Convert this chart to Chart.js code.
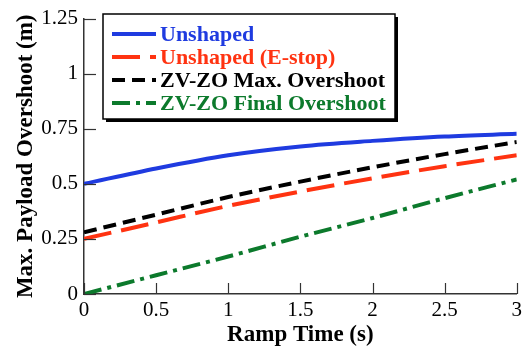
<!DOCTYPE html>
<html>
<head>
<meta charset="utf-8">
<script src="https://cdn.jsdelivr.net/npm/chart.js@4"></script>
<style>
  html, body { margin: 0; padding: 0; background: #fff; }
  #wrap { width: 526px; height: 354px; position: relative; }
</style>
</head>
<body>
<div id="wrap"><canvas id="myChart"></canvas></div>
<script>
const rampTimes = [0, 0.5, 1, 1.5, 2, 2.5, 3];
const unshaped = [0.5, 0.57, 0.63, 0.67, 0.695, 0.715, 0.727];
const unshapedEstop = [0.25, 0.325, 0.4, 0.465, 0.525, 0.58, 0.63];
const zvzoMax = [0.28, 0.36, 0.44, 0.51, 0.575, 0.635, 0.69];
const zvzoFinal = [0, 0.085, 0.17, 0.26, 0.345, 0.435, 0.52];
const seriesNames = ["Unshaped", "Unshaped (E-stop)", "ZV-ZO Max. Overshoot", "ZV-ZO Final Overshoot"];
const xTicks = [0, 0.5, 1, 1.5, 2, 2.5, 3];
const yTicks = [0, 0.25, 0.5, 0.75, 1, 1.25];

const serif = "'Liberation Serif', 'DejaVu Serif', serif";

const toPoints = (vals) => rampTimes.map((t, i) => ({ x: t, y: vals[i] }));

const makeSet = (label, vals, color, dash) => ({
  label: label,
  data: toPoints(vals),
  borderColor: color,
  backgroundColor: color,
  borderWidth: 4,
  borderDash: dash,
  pointRadius: 0,
  cubicInterpolationMode: "monotone",
  fill: false,
});

// inward tick marks, like the original plot
const innerTicks = {
  id: "innerTicks",
  afterDraw(chart) {
    const ctx = chart.ctx;
    const xs = chart.scales.x;
    const ys = chart.scales.y;
    const area = chart.chartArea;
    ctx.save();
    ctx.strokeStyle = "#333";
    ctx.lineWidth = 1.2;
    xTicks.forEach((v) => {
      const px = Math.round(xs.getPixelForValue(v)) + 0.5;
      ctx.beginPath();
      ctx.moveTo(px, area.bottom);
      ctx.lineTo(px, area.bottom - 11);
      ctx.stroke();
    });
    yTicks.forEach((v) => {
      const py = Math.round(ys.getPixelForValue(v)) + 0.5;
      ctx.beginPath();
      ctx.moveTo(area.left, py);
      ctx.lineTo(area.left + 12, py);
      ctx.stroke();
    });
    ctx.restore();
  },
};

// boxed legend with a drop shadow, top left inside the plot
const boxLegend = {
  id: "boxLegend",
  afterDraw(chart) {
    const ctx = chart.ctx;
    const left = 103, top = 14, w = 292, h = 105;
    ctx.save();
    ctx.fillStyle = "#000";
    ctx.fillRect(left + 3, top + 3, w, h);
    ctx.fillStyle = "#fff";
    ctx.fillRect(left, top, w, h);
    ctx.strokeStyle = "#000";
    ctx.lineWidth = 1.5;
    ctx.strokeRect(left, top, w, h);
    ctx.font = "bold 22px " + serif;
    ctx.textBaseline = "middle";
    chart.data.datasets.forEach((ds, i) => {
      const y = 34 + i * 23;
      ctx.strokeStyle = ds.borderColor;
      ctx.lineWidth = 4;
      ctx.setLineDash(ds.borderDash || []);
      ctx.beginPath();
      ctx.moveTo(112, y);
      ctx.lineTo(156, y);
      ctx.stroke();
      ctx.setLineDash([]);
      ctx.fillStyle = ds.borderColor;
      ctx.fillText(ds.label, 160, y + 1);
    });
    ctx.restore();
  },
};

new Chart(document.getElementById("myChart"), {
  type: "line",
  data: {
    datasets: [
      makeSet(seriesNames[0], unshaped, "#1f3be0", []),
      makeSet(seriesNames[1], unshapedEstop, "#ff3311", [28, 10]),
      makeSet(seriesNames[2], zvzoMax, "#000000", [13, 7]),
      makeSet(seriesNames[3], zvzoFinal, "#0c7a2c", [18, 6, 4, 6]),
    ],
  },
  options: {
    responsive: true,
    maintainAspectRatio: false,
    animation: false,
    layout: { padding: { top: 12, right: 7, left: 0, bottom: 0 } },
    plugins: {
      legend: { display: false },
      tooltip: { enabled: false },
    },
    scales: {
      x: {
        type: "linear",
        min: 0,
        max: 3,
        afterBuildTicks: (scale) => { scale.ticks = xTicks.map((v) => ({ value: v })); },
        afterFit: (scale) => { scale.height = 60; },
        grid: { display: false, drawTicks: false },
        border: { display: true, color: "#333", width: 1.5 },
        ticks: {
          color: "#000",
          font: { family: serif, size: 21 },
          padding: 4,
          maxRotation: 0,
          callback: (v) => String(v),
        },
        title: {
          display: true,
          text: "Ramp Time (s)",
          color: "#000",
          font: { family: serif, size: 23, weight: "bold" },
          padding: { top: 0, bottom: 5 },
        },
      },
      y: {
        type: "linear",
        min: 0,
        max: 1.25,
        afterBuildTicks: (scale) => { scale.ticks = yTicks.map((v) => ({ value: v })); },
        afterFit: (scale) => { scale.width = 84; },
        grid: { display: false, drawTicks: false },
        border: { display: true, color: "#333", width: 1.5 },
        ticks: {
          color: "#000",
          font: { family: serif, size: 21 },
          padding: 6,
          callback: (v) => String(v),
        },
        title: {
          display: true,
          text: "Max. Payload Overshoot (m)",
          color: "#000",
          font: { family: serif, size: 23, weight: "bold" },
          padding: { top: 12, bottom: 0 },
        },
      },
    },
  },
  plugins: [innerTicks, boxLegend],
});
</script>
</body>
</html>
